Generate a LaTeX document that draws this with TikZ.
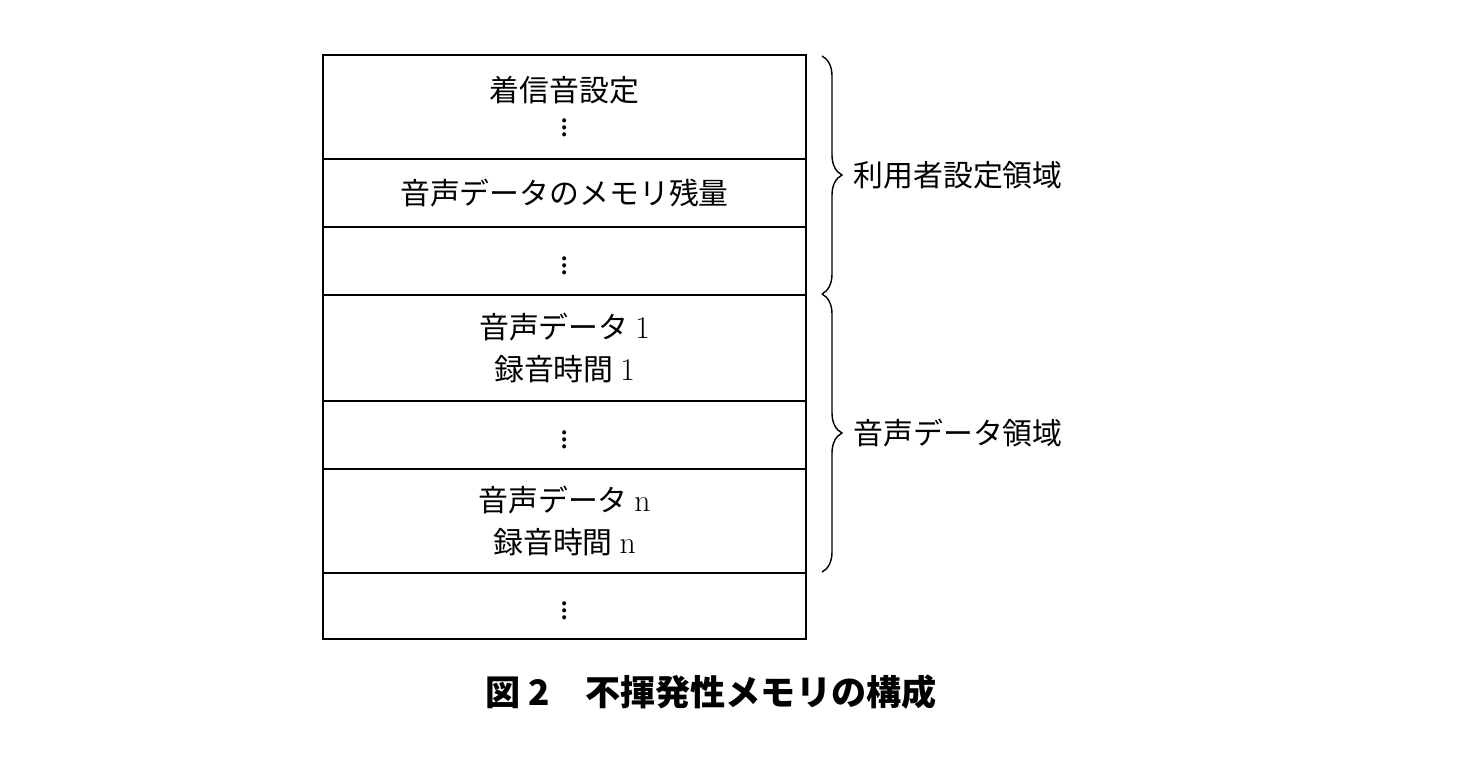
\documentclass[tikz,border=0pt]{standalone}
\usepackage{fontspec}
\newfontfamily\cjk{Noto Sans CJK JP}
\usetikzlibrary{decorations.pathreplacing}
\newcommand{\lat}[1]{{\normalfont\fontsize{18}{22}\selectfont #1}}
\begin{document}
\begin{tikzpicture}[x=0.02cm, y=-0.02cm]
  \tikzset{row/.style = {draw, line width=0.9pt, minimum width=9.66cm, inner sep=0pt, anchor=north, align=center, font=\cjk\fontsize{17}{24}\selectfont},
           area/.style = {decorate, decoration={brace, amplitude=0.4cm}, line width=0.8pt},
           label/.style = {anchor=west, font=\cjk\fontsize{17}{22}\selectfont}}
  \useasboundingbox (0,0) rectangle (1476,774);
  \node [row, minimum height=2.08cm] (R1) at (564.5,54) {着信音設定\\[-4pt]$\vdots$};
  \node [row, minimum height=1.36cm] (R2) at (564.5,158) {音声データのメモリ残量};
  \node [row, minimum height=1.36cm] (R3) at (564.5,226) {$\vdots$};
  \node [row, minimum height=2.12cm] (R4) at (564.5,294) {音声データ \lat{1}\\録音時間 \lat{1}};
  \node [row, minimum height=1.36cm] (R5) at (564.5,400) {$\vdots$};
  \node [row, minimum height=2.08cm] (R6) at (564.5,468) {音声データ \lat{n}\\録音時間 \lat{n}};
  \node [row, minimum height=1.32cm] (R7) at (564.5,572) {$\vdots$};

  \coordinate (B1) at (822,56);
  \coordinate (B2) at (822,294);
  \coordinate (B3) at (822,572);
  \draw [area] (B1) to node [label, xshift=0.5cm] (U) {利用者設定領域} (B2);
  \draw [area] (B2) to node [label, xshift=0.5cm] (V) {音声データ領域} (B3);

  \node [font=\cjk\bfseries\fontsize{20}{24}\selectfont] (C) at (711,692) {図 2\quad 不揮発性メモリの構成};
\end{tikzpicture}
\end{document}
